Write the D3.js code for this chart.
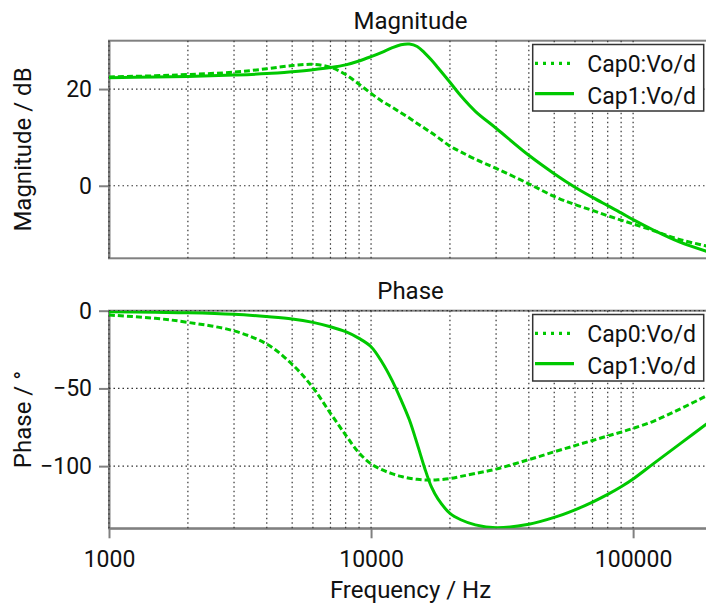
<!DOCTYPE html>
<html>
<head>
<meta charset="utf-8">
<script src="https://cdn.jsdelivr.net/npm/d3@7/dist/d3.min.js"></script>
<style>
  html, body { margin: 0; padding: 0; background: #fff; }
  svg { display: block; }
  text { font-family: Roboto, "DejaVu Sans Condensed", sans-serif; fill: #111; }
</style>
</head>
<body>
<div id="chart"></div>
<script>
// ---- data ----
const freq = [1000, 1500, 2000, 3000, 4000, 5000, 6000, 7000, 8000, 9000, 10000, 11000, 12000, 13000, 14000, 15000, 16000, 17000, 18000, 20000, 22000, 25000, 30000, 40000, 50000, 60000, 70000, 80000, 90000, 100000, 120000, 150000, 200000];

const magCap0 = [22.5, 22.75, 23.0, 23.5, 24.2, 24.85, 25.1, 24.5, 23.0, 21.0, 19.1, 17.5, 16.3, 15.1, 14.0, 12.9, 11.9, 10.95, 10.0, 8.2, 7.0, 5.5, 3.6, 0.4, -2.2, -3.9, -5.1, -6.2, -7.1, -7.9, -9.3, -11.1, -12.7];
const magCap1 = [22.35, 22.5, 22.6, 22.9, 23.2, 23.6, 24.0, 24.45, 25.0, 25.8, 26.7, 27.6, 28.5, 29.15, 29.3, 28.8, 27.5, 26.0, 24.4, 21.4, 18.6, 15.4, 11.9, 6.3, 2.5, -0.3, -2.4, -4.1, -5.6, -7.0, -9.2, -11.6, -13.9];

const phaseCap0 = [-2.8, -4.9, -7.5, -13, -21.5, -34.5, -49.5, -66, -80, -91.5, -98.5, -102.3, -104.8, -106.6, -107.8, -108.5, -108.9, -109, -108.8, -108, -106.6, -104.7, -101.9, -95.8, -90.8, -86.8, -83.5, -80.6, -78.1, -75.7, -71, -63.5, -53];
const phaseCap1 = [-0.6, -1.0, -1.3, -2.3, -3.8, -5.3, -7.5, -10.3, -13.5, -17.8, -23.2, -33, -44.5, -57.2, -70.2, -85.7, -101, -113.4, -121.1, -130.4, -134.5, -137.8, -139.6, -137.4, -133.0, -128.1, -123.1, -118.2, -113.3, -108.3, -98.2, -86, -70.3];

const seriesNames = ["Cap0:Vo/d", "Cap1:Vo/d"];
const xTicks = [1000, 10000, 100000];
const magTicks = [0, 20];
const phaseTicks = [-100, -50, 0];

// ---- layout ----
const W = 706, H = 605;
const left = 109, right = 712;
const magTop = 40.7, magBottom = 258.3;
const phTop = 310.7, phBottom = 528.3;
const green = "#00c800";
const frameColor = "#808080";

const svg = d3.select("#chart").append("svg")
  .attr("width", W).attr("height", H).attr("viewBox", `0 0 ${W} ${H}`);

const x = d3.scaleLog().domain([1000, 200000]).range([left, right]);
const yMag = d3.scaleLinear().domain([-15, 30]).range([magBottom, magTop]);
const yPh = d3.scaleLinear().domain([-140, 0]).range([phBottom, phTop]);

function panel(id, y, top, bottom, yTicks, series, title, ylabel, showX) {
  const g = svg.append("g");
  svg.append("clipPath").attr("id", "clip" + id)
    .append("rect").attr("x", left).attr("y", top)
    .attr("width", right - left).attr("height", bottom - top);

  // frame
  g.append("rect").attr("x", left).attr("y", top)
    .attr("width", right - left).attr("height", bottom - top)
    .attr("fill", "none").attr("stroke", frameColor).attr("stroke-width", 2);

  // y axis
  const ya = g.append("g").attr("transform", `translate(${left},0)`)
    .call(d3.axisLeft(y).tickValues(yTicks).tickSize(10).tickSizeOuter(0).tickPadding(7));
  ya.select(".domain").attr("stroke", frameColor).attr("stroke-width", 2);
  ya.selectAll(".tick line").attr("stroke", frameColor).attr("stroke-width", 2);
  ya.selectAll(".tick text").attr("font-size", 23).attr("font-family", "Roboto").attr("fill", "#111");

  if (showX) {
    const xa = g.append("g").attr("transform", `translate(0,${bottom})`)
      .call(d3.axisBottom(x).tickValues(xTicks).tickFormat(d3.format("d"))
        .tickSize(10).tickSizeOuter(0).tickPadding(12));
    xa.select(".domain").attr("stroke", frameColor).attr("stroke-width", 2);
    xa.selectAll(".tick line").attr("stroke", frameColor).attr("stroke-width", 2);
    xa.selectAll(".tick text").attr("font-size", 23).attr("font-family", "Roboto").attr("fill", "#111");
  }

  // grid
  const grid = g.append("g").attr("stroke", "#333").attr("stroke-width", 1.2)
    .attr("stroke-dasharray", "1.5,3");
  grid.selectAll("line.v").data(x.ticks()).join("line")
    .attr("x1", d => x(d)).attr("x2", d => x(d))
    .attr("y1", top).attr("y2", bottom);
  grid.selectAll("line.h").data(yTicks).join("line")
    .attr("x1", left).attr("x2", right)
    .attr("y1", d => y(d)).attr("y2", d => y(d));

  // curves
  const line = d3.line()
    .x((d, i) => x(freq[i]))
    .y(d => y(d))
    .curve(d3.curveCatmullRom.alpha(0.5));
  const cg = g.append("g").attr("clip-path", `url(#clip${id})`);
  series.forEach((s, k) => {
    cg.append("path").datum(s)
      .attr("d", line)
      .attr("fill", "none")
      .attr("stroke", green)
      .attr("stroke-width", 3)
      .attr("stroke-linejoin", "round")
      .attr("stroke-dasharray", k === 0 ? "6,3" : null);
  });

  // legend
  const lx = 532.7, ly = top + 3.8, lw = 171, lh = 66.5;
  const lg = g.append("g");
  lg.append("rect").attr("x", lx).attr("y", ly).attr("width", lw).attr("height", lh)
    .attr("fill", "#fff").attr("stroke", "#333").attr("stroke-width", 1.5);
  seriesNames.forEach((name, k) => {
    const sy = top + 22.6 + k * 30.3;
    lg.append("line").attr("x1", 535).attr("x2", 574).attr("y1", sy).attr("y2", sy)
      .attr("stroke", green).attr("stroke-width", 3.2)
      .attr("stroke-dasharray", k === 0 ? "3,5" : null);
    lg.append("text").attr("x", 587.3).attr("y", top + 31 + k * 32.3)
      .attr("font-size", 23).text(name);
  });

  // title
  g.append("text").attr("x", (left + right) / 2).attr("y", top - 11.5)
    .attr("text-anchor", "middle").attr("font-size", 24).text(title);

  // y label
  g.append("text")
    .attr("transform", `translate(30.5,${(top + bottom) / 2}) rotate(-90)`)
    .attr("text-anchor", "middle").attr("font-size", 24).text(ylabel);
}

panel("m", yMag, magTop, magBottom, magTicks, [magCap0, magCap1], "Magnitude", "Magnitude / dB", false);
panel("p", yPh, phTop, phBottom, phaseTicks, [phaseCap0, phaseCap1], "Phase", "Phase / °", true);

svg.append("text").attr("x", (left + right) / 2).attr("y", 598)
  .attr("text-anchor", "middle").attr("font-size", 24).text("Frequency / Hz");
</script>
</body>
</html>
